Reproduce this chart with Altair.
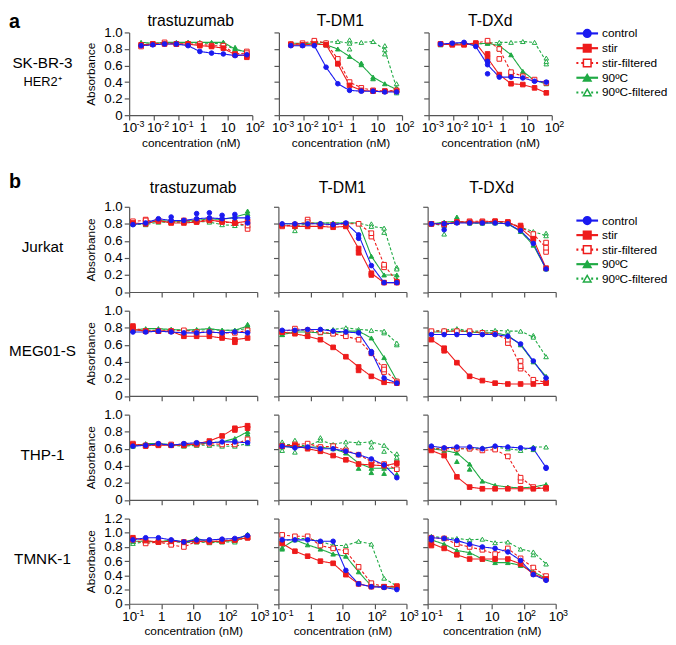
import altair as alt
import pandas as pd

FONT = "Liberation Sans"
BLUE = "#1a1af0"
RED = "#ee1b1b"
GREEN = "#1faa44"
AX = "#555555"

series = ["control", "stir", "stir-filtered", "90ºC", "90ºC-filtered"]
dashed_series = ["stir-filtered", "90ºC-filtered"]
solid_series = ["control", "stir", "90ºC"]

# concentrations (nM)
conc_a = [0.00305, 0.00914, 0.0274, 0.0823, 0.247, 0.741, 2.22, 6.67, 20.0, 60.0]
conc_b = [0.131, 0.328, 0.819, 2.05, 5.12, 12.8, 32.0, 80.0, 200.0, 500.0]

# mean curves; rows: control, stir, stir-filtered, 90ºC, 90ºC-filtered
skbr3_trastuzumab = [
    [0.84, 0.85, 0.86, 0.86, 0.84, 0.77, 0.75, 0.74, 0.72, 0.73],
    [0.85, 0.86, 0.86, 0.86, 0.86, 0.84, 0.83, 0.81, 0.73, 0.72],
    [0.83, 0.86, 0.88, 0.86, 0.86, 0.86, 0.84, 0.84, 0.74, 0.75],
    [0.88, 0.87, 0.88, 0.88, 0.88, 0.88, 0.88, 0.88, 0.80, 0.76],
    [0.86, 0.86, 0.87, 0.87, 0.88, 0.87, 0.87, 0.86, 0.79, 0.77],
]
skbr3_tdm1 = [
    [0.84, 0.84, 0.84, 0.58, 0.38, 0.30, 0.29, 0.29, 0.28, 0.28],
    [0.85, 0.85, 0.86, 0.85, 0.62, 0.36, 0.30, 0.29, 0.29, 0.29],
    [0.86, 0.87, 0.90, 0.87, 0.68, 0.40, 0.33, 0.30, 0.29, 0.30],
    [0.87, 0.87, 0.87, 0.85, 0.80, 0.71, 0.61, 0.46, 0.38, 0.31],
    [0.86, 0.86, 0.88, 0.88, 0.89, 0.87, 0.88, 0.89, 0.79, 0.33],
]
skbr3_tdxd = [
    [0.86, 0.87, 0.88, 0.83, 0.61, 0.46, 0.46, 0.45, 0.41, 0.40],
    [0.86, 0.85, 0.85, 0.87, 0.69, 0.49, 0.38, 0.37, 0.33, 0.27],
    [0.86, 0.86, 0.86, 0.87, 0.90, 0.80, 0.52, 0.47, 0.43, 0.39],
    [0.85, 0.86, 0.86, 0.86, 0.87, 0.84, 0.73, 0.53, 0.42, 0.38],
    [0.86, 0.86, 0.86, 0.86, 0.87, 0.88, 0.88, 0.89, 0.88, 0.65],
]
jurkat_trastuzumab = [
    [0.79, 0.81, 0.86, 0.84, 0.84, 0.86, 0.87, 0.86, 0.87, 0.87],
    [0.81, 0.80, 0.84, 0.81, 0.81, 0.82, 0.84, 0.83, 0.81, 0.83],
    [0.83, 0.84, 0.83, 0.82, 0.84, 0.83, 0.85, 0.82, 0.81, 0.78],
    [0.80, 0.80, 0.84, 0.83, 0.83, 0.84, 0.86, 0.85, 0.88, 0.92],
    [0.80, 0.79, 0.82, 0.82, 0.82, 0.83, 0.82, 0.79, 0.78, 0.79],
]
jurkat_tdm1 = [
    [0.80, 0.80, 0.80, 0.80, 0.79, 0.81, 0.67, 0.31, 0.11, 0.11],
    [0.78, 0.77, 0.77, 0.77, 0.76, 0.77, 0.51, 0.22, 0.11, 0.11],
    [0.77, 0.79, 0.82, 0.79, 0.79, 0.80, 0.80, 0.69, 0.32, 0.12],
    [0.80, 0.80, 0.81, 0.81, 0.81, 0.81, 0.81, 0.42, 0.20, 0.20],
    [0.79, 0.77, 0.80, 0.81, 0.81, 0.81, 0.81, 0.77, 0.75, 0.27],
]
jurkat_tdxd = [
    [0.80, 0.80, 0.81, 0.81, 0.81, 0.81, 0.80, 0.72, 0.57, 0.27],
    [0.80, 0.80, 0.82, 0.82, 0.82, 0.83, 0.82, 0.75, 0.62, 0.28],
    [0.80, 0.79, 0.82, 0.83, 0.83, 0.83, 0.82, 0.76, 0.68, 0.52],
    [0.80, 0.82, 0.83, 0.81, 0.81, 0.81, 0.80, 0.71, 0.55, 0.27],
    [0.80, 0.78, 0.82, 0.81, 0.81, 0.82, 0.81, 0.76, 0.71, 0.66],
]
meg01s_trastuzumab = [
    [0.75, 0.75, 0.76, 0.75, 0.74, 0.74, 0.75, 0.74, 0.75, 0.74],
    [0.78, 0.76, 0.76, 0.76, 0.70, 0.70, 0.70, 0.68, 0.66, 0.68],
    [0.80, 0.76, 0.76, 0.76, 0.77, 0.75, 0.75, 0.74, 0.74, 0.77],
    [0.77, 0.79, 0.79, 0.78, 0.77, 0.78, 0.79, 0.77, 0.77, 0.82],
    [0.77, 0.77, 0.77, 0.78, 0.77, 0.77, 0.78, 0.77, 0.77, 0.79],
]
meg01s_tdm1 = [
    [0.77, 0.77, 0.78, 0.78, 0.76, 0.75, 0.74, 0.52, 0.21, 0.15],
    [0.75, 0.73, 0.70, 0.66, 0.57, 0.46, 0.34, 0.23, 0.16, 0.15],
    [0.75, 0.79, 0.77, 0.75, 0.73, 0.70, 0.66, 0.50, 0.31, 0.17],
    [0.72, 0.75, 0.75, 0.74, 0.73, 0.76, 0.76, 0.68, 0.45, 0.18],
    [0.72, 0.76, 0.78, 0.78, 0.78, 0.80, 0.78, 0.77, 0.76, 0.62],
]
meg01s_tdxd = [
    [0.72, 0.72, 0.72, 0.72, 0.72, 0.72, 0.70, 0.61, 0.41, 0.21],
    [0.66, 0.56, 0.39, 0.23, 0.18, 0.15, 0.14, 0.14, 0.14, 0.15],
    [0.76, 0.76, 0.76, 0.76, 0.74, 0.73, 0.66, 0.35, 0.19, 0.16],
    [0.75, 0.75, 0.77, 0.75, 0.74, 0.74, 0.71, 0.60, 0.40, 0.23],
    [0.76, 0.77, 0.79, 0.76, 0.76, 0.77, 0.76, 0.76, 0.69, 0.46],
]
thp1_trastuzumab = [
    [0.63, 0.64, 0.66, 0.64, 0.66, 0.67, 0.67, 0.68, 0.68, 0.67],
    [0.65, 0.64, 0.64, 0.64, 0.64, 0.66, 0.69, 0.75, 0.84, 0.87],
    [0.66, 0.63, 0.65, 0.65, 0.65, 0.65, 0.66, 0.65, 0.65, 0.71],
    [0.63, 0.66, 0.66, 0.65, 0.64, 0.65, 0.67, 0.68, 0.72, 0.80],
    [0.64, 0.64, 0.65, 0.64, 0.63, 0.64, 0.64, 0.63, 0.63, 0.66],
]
thp1_tdm1 = [
    [0.63, 0.61, 0.62, 0.60, 0.60, 0.57, 0.53, 0.48, 0.41, 0.26],
    [0.63, 0.64, 0.60, 0.57, 0.52, 0.47, 0.42, 0.41, 0.40, 0.43],
    [0.63, 0.65, 0.66, 0.62, 0.63, 0.58, 0.53, 0.45, 0.42, 0.36],
    [0.62, 0.63, 0.62, 0.62, 0.60, 0.55, 0.43, 0.37, 0.37, 0.37],
    [0.65, 0.65, 0.63, 0.70, 0.65, 0.68, 0.67, 0.68, 0.64, 0.50],
]
thp1_tdxd = [
    [0.63, 0.61, 0.62, 0.62, 0.60, 0.63, 0.62, 0.61, 0.60, 0.38],
    [0.58, 0.52, 0.27, 0.15, 0.13, 0.13, 0.13, 0.13, 0.13, 0.14],
    [0.60, 0.60, 0.60, 0.60, 0.58, 0.59, 0.51, 0.26, 0.15, 0.13],
    [0.60, 0.58, 0.55, 0.42, 0.22, 0.17, 0.15, 0.14, 0.15, 0.18],
    [0.60, 0.61, 0.60, 0.60, 0.61, 0.62, 0.60, 0.58, 0.62, 0.62],
]
tmnk1_trastuzumab = [
    [0.90, 0.93, 0.93, 0.90, 0.87, 0.90, 0.90, 0.91, 0.92, 0.96],
    [0.93, 0.89, 0.87, 0.88, 0.87, 0.88, 0.88, 0.88, 0.90, 0.93],
    [0.90, 0.85, 0.87, 0.83, 0.80, 0.88, 0.87, 0.89, 0.90, 0.93],
    [0.88, 0.88, 0.87, 0.90, 0.87, 0.92, 0.87, 0.88, 0.89, 0.98],
    [0.85, 0.87, 0.87, 0.88, 0.86, 0.87, 0.86, 0.87, 0.87, 0.95],
]
tmnk1_tdm1 = [
    [0.90, 0.90, 0.90, 0.88, 0.88, 0.47, 0.28, 0.24, 0.23, 0.20],
    [0.85, 0.74, 0.67, 0.60, 0.57, 0.41, 0.28, 0.24, 0.24, 0.24],
    [0.97, 0.95, 0.95, 0.82, 0.78, 0.74, 0.52, 0.29, 0.24, 0.25],
    [0.79, 0.90, 0.83, 0.77, 0.70, 0.67, 0.45, 0.25, 0.24, 0.23],
    [0.88, 0.92, 0.92, 0.88, 0.82, 0.82, 0.88, 0.84, 0.36, 0.25],
]
tmnk1_tdxd = [
    [0.93, 0.92, 0.89, 0.84, 0.80, 0.78, 0.73, 0.61, 0.41, 0.33],
    [0.85, 0.78, 0.69, 0.63, 0.63, 0.63, 0.63, 0.56, 0.42, 0.35],
    [0.93, 0.92, 0.84, 0.80, 0.76, 0.70, 0.78, 0.64, 0.51, 0.39],
    [0.90, 0.84, 0.75, 0.72, 0.63, 0.58, 0.58, 0.54, 0.45, 0.36],
    [0.95, 0.93, 0.92, 0.90, 0.91, 0.86, 0.87, 0.77, 0.73, 0.56],
]

# visibly separate replicate markers: (series index, concentration index, absorbance)
skbr3_trastuzumab_rep = [(1, 9, 0.70), (2, 9, 0.77), (3, 8, 0.82), (4, 7, 0.88)]
skbr3_tdm1_rep = [(4, 5, 0.80), (4, 5, 0.91), (4, 8, 0.84), (4, 8, 0.74), (4, 9, 0.38),
                  (4, 9, 0.27), (3, 6, 0.63), (3, 7, 0.44)]
skbr3_tdxd_rep = [(0, 4, 0.50), (0, 4, 0.65), (2, 5, 0.68), (2, 6, 0.48), (4, 9, 0.69),
                  (4, 9, 0.62), (1, 4, 0.74), (3, 5, 0.80)]
jurkat_trastuzumab_rep = [(0, 3, 0.88), (0, 5, 0.92), (0, 6, 0.93), (0, 7, 0.90), (0, 8, 0.91),
                          (0, 9, 0.81), (3, 9, 0.95), (2, 9, 0.74), (2, 1, 0.85)]
jurkat_tdm1_rep = [(0, 6, 0.63), (1, 6, 0.46), (1, 7, 0.20), (2, 7, 0.65), (2, 8, 0.29),
                   (4, 7, 0.80), (4, 8, 0.70), (4, 9, 0.29), (4, 1, 0.72), (3, 9, 0.15),
                   (2, 2, 0.85)]
jurkat_tdxd_rep = [(4, 1, 0.68), (2, 9, 0.58), (2, 9, 0.47), (4, 9, 0.69), (2, 8, 0.63),
                   (3, 2, 0.88), (0, 1, 0.73), (1, 7, 0.78)]
meg01s_trastuzumab_rep = [(1, 0, 0.82), (1, 8, 0.63), (3, 9, 0.84)]
meg01s_tdm1_rep = [(2, 8, 0.34), (2, 8, 0.28), (1, 6, 0.30), (4, 9, 0.60), (4, 8, 0.74),
                   (0, 7, 0.50)]
meg01s_tdxd_rep = [(2, 7, 0.41), (2, 7, 0.32), (2, 6, 0.62), (1, 1, 0.53), (4, 8, 0.71)]
thp1_trastuzumab_rep = [(1, 8, 0.82), (1, 9, 0.84), (3, 9, 0.77)]
thp1_tdm1_rep = [(4, 0, 0.58), (4, 0, 0.68), (4, 1, 0.56), (4, 1, 0.70), (4, 3, 0.73),
                 (4, 5, 0.62), (4, 7, 0.62), (4, 8, 0.57), (4, 9, 0.48), (4, 9, 0.54),
                 (3, 6, 0.37), (3, 7, 0.32), (3, 8, 0.31), (3, 9, 0.30)]
thp1_tdxd_rep = [(3, 2, 0.45), (3, 3, 0.36), (2, 7, 0.22), (0, 9, 0.37), (4, 8, 0.59)]
tmnk1_trastuzumab_rep = []
tmnk1_tdm1_rep = [(3, 0, 0.77), (2, 7, 0.25), (4, 0, 0.90)]
tmnk1_tdxd_rep = [(0, 0, 0.90), (4, 8, 0.69), (1, 0, 0.82)]

drugs = ["trastuzumab", "T-DM1", "T-DXd"]
xticks_a = [0.001, 0.01, 0.1, 1, 10, 100]
xticks_b = [0.1, 1, 10, 100, 1000]
# superscript exponents shown next to the "10" tick labels
sup_ticks_a = [0.001, 0.01, 0.1, 100]
sup_text_a = ["-3", "-2", "-1", "2"]
sup_ticks_b = [0.1, 100, 1000]
sup_text_b = ["-1", "2", "3"]
yticks_1 = [0, 0.2, 0.4, 0.6, 0.8, 1.0]
yticks_12 = [0, 0.2, 0.4, 0.6, 0.8, 1.0, 1.2]

color_scale = alt.Scale(domain=series, range=[BLUE, RED, RED, GREEN, GREEN])
fill_scale = alt.Scale(domain=series, range=[BLUE, RED, "white", GREEN, "white"])
shape_scale = alt.Scale(domain=series, range=["circle", "square", "square", "triangle-up", "triangle-up"])
dash_scale = alt.Scale(domain=series, range=[[1, 0], [1, 0], [3, 2], [1, 0], [3, 2]])
draw_order = [4, 3, 2, 1, 0]


def panel_df(vals, conc):
    rows = []
    for si in draw_order:
        for c, v in zip(conc, vals[si]):
            rows.append({"series": series[si], "conc": c, "absorbance": v, "o": 4 - si})
    return pd.DataFrame(rows)


def rep_df(reps, conc):
    rows = [{"series": series[s], "conc": conc[ci], "absorbance": v, "o": 4 - s}
            for s, ci, v in reps]
    return pd.DataFrame(rows)


def text_layer(txt, x, y, size, weight="normal", align="center", baseline="alphabetic"):
    return alt.Chart(pd.DataFrame({"t": [txt]})).mark_text(
        font=FONT, fontSize=size, fontWeight=weight, align=align,
        baseline=baseline, color="black"
    ).encode(text="t:N", x=alt.value(x), y=alt.value(y))


def make_legend(cfg):
    x0 = cfg["leg_x0"]
    ly = alt.Y("series:N", axis=None,
               scale=alt.Scale(type="point", domain=series, range=cfg["leg_range"], padding=0))
    solid = alt.Chart(pd.DataFrame({"series": solid_series})).mark_rule(strokeWidth=2.2).encode(
        x=alt.value(x0), x2=alt.value(x0 + 22), y=ly,
        color=alt.Color("series:N", scale=color_scale, legend=None))
    dashed = alt.Chart(pd.DataFrame({"series": dashed_series})).mark_rule(
        strokeWidth=2.2, strokeDash=[2, 3]).encode(
        x=alt.value(x0), x2=alt.value(x0 + 22), y=ly,
        color=alt.Color("series:N", scale=color_scale, legend=None))
    ldf = pd.DataFrame({"series": series})
    pt = alt.Chart(ldf).mark_point(filled=True, size=60, strokeWidth=1.5, opacity=1).encode(
        x=alt.value(x0 + 11), y=ly,
        shape=alt.Shape("series:N", scale=shape_scale, legend=None),
        fill=alt.Fill("series:N", scale=fill_scale, legend=None),
        stroke=alt.Stroke("series:N", scale=color_scale, legend=None))
    tx = alt.Chart(ldf).mark_text(align="left", baseline="middle", font=FONT, fontSize=12,
                                  color="black").encode(
        x=alt.value(x0 + 26), y=ly, text="series:N")
    return alt.layer(solid, dashed, pt, tx)


def make_panel(vals, reps, cfg, col, ymax, texts, legend=False):
    df = panel_df(vals, cfg["conc"])
    pts_df = pd.concat([rep_df(reps, cfg["conc"]), df], ignore_index=True) if reps else df
    H = cfg["height"]
    common = dict(values=cfg["xticks"], tickSize=5, domainColor=AX, tickColor=AX,
                  domainWidth=1.2, tickWidth=1.2, grid=False, labelFont=FONT,
                  labelFontSize=13.5, labelColor="black", labelPadding=1,
                  labelFlush=False, labelOverlap=False)
    if cfg["xlabels"]:
        x_axis = alt.Axis(labelExpr="datum.value == 1 ? '1' : '10'",
                          title="concentration (nM)", titleFont=FONT, titleFontSize=12,
                          titleFontWeight="normal", titleColor="black", titlePadding=3,
                          **common)
    else:
        x_axis = alt.Axis(labels=False, title="", **common)
    yt = yticks_12 if ymax > 1.05 else yticks_1
    ycommon = dict(values=yt, tickSize=5, domainColor=AX, tickColor=AX, domainWidth=1.2,
                   tickWidth=1.2, grid=False, labelFont=FONT, labelFontSize=13.5,
                   labelColor="black", labelPadding=2, labelFlush=False, labelOverlap=False)
    if col == 0:
        y_axis = alt.Axis(labelExpr="datum.value == 0 ? '0' : format(datum.value, '.1f')",
                          title="Absorbance", titleFont=FONT, titleFontSize=12,
                          titleFontWeight="normal", titleColor="black", titlePadding=6,
                          **ycommon)
    else:
        y_axis = alt.Axis(labels=False, title="", **ycommon)
    xscale = alt.Scale(type="log", domain=cfg["xdomain"], nice=False)
    x = alt.X("conc:Q", scale=xscale, axis=x_axis)
    y = alt.Y("absorbance:Q", scale=alt.Scale(domain=[0, ymax], nice=False), axis=y_axis)
    lines = alt.Chart(df).mark_line(strokeWidth=1.1).encode(
        x=x, y=y,
        color=alt.Color("series:N", scale=color_scale, legend=None),
        strokeDash=alt.StrokeDash("series:N", scale=dash_scale, legend=None),
    )
    pts = alt.Chart(pts_df).mark_point(filled=True, size=22, strokeWidth=1, opacity=1).encode(
        x=x, y=y,
        shape=alt.Shape("series:N", scale=shape_scale, legend=None),
        fill=alt.Fill("series:N", scale=fill_scale, legend=None),
        stroke=alt.Stroke("series:N", scale=color_scale, legend=None),
        order=alt.Order("o:Q"),
    )
    layers = [lines, pts]
    if cfg["xlabels"]:
        sup = alt.Chart(pd.DataFrame({"conc": cfg["sup_ticks"], "s": cfg["sup_text"]})).mark_text(
            font=FONT, fontSize=9, align="left", baseline="alphabetic", dx=7.5, color="black"
        ).encode(x=alt.X("conc:Q", scale=xscale, axis=x_axis), y=alt.value(H + 12.5), text="s:N")
        layers.append(sup)
    core = alt.layer(*layers, *texts)
    if legend:
        core = alt.layer(core, make_legend(cfg)).resolve_scale(y="independent")
    return core.properties(width=cfg["width"], height=H,
                           view=alt.ViewBackground(stroke=None, strokeWidth=0))


cfg_a = dict(conc=conc_a, xdomain=[0.001, 100], xticks=xticks_a, sup_ticks=sup_ticks_a,
             sup_text=sup_text_a, width=125, height=84, leg_range=[1, 61], leg_x0=150,
             title_y=-7)
cfg_b = dict(conc=conc_b, xdomain=[0.1, 1000], xticks=xticks_b, sup_ticks=sup_ticks_b,
             sup_text=sup_text_b, width=130, height=86.5, leg_range=[14, 73], leg_x0=151,
             title_y=-14)

# ---- row a ----
row_a_vals = [(skbr3_trastuzumab, skbr3_trastuzumab_rep), (skbr3_tdm1, skbr3_tdm1_rep),
              (skbr3_tdxd, skbr3_tdxd_rep)]
ca = dict(cfg_a, xlabels=True)
panels_a = []
for j, (vals, reps) in enumerate(row_a_vals):
    texts = [text_layer(drugs[j], ca["width"] / 2, ca["title_y"], 16)]
    if j == 0:
        mid = ca["height"] / 2
        texts += [
            text_layer("a", -122, -4, 20, weight="bold", align="left"),
            text_layer("SK-BR-3", -88, mid - 10.5, 15.5, baseline="middle"),
            text_layer("HER2⁺", -88, mid + 8, 13, baseline="middle"),
        ]
    panels_a.append(make_panel(vals, reps, ca, j, 1.0, texts, legend=(j == 2)))
row_a = alt.hconcat(*panels_a, spacing=27, bounds="flush")

# ---- rows b ----
cells_b = [
    ("Jurkat", [(jurkat_trastuzumab, jurkat_trastuzumab_rep), (jurkat_tdm1, jurkat_tdm1_rep),
                (jurkat_tdxd, jurkat_tdxd_rep)], 1.0),
    ("MEG01-S", [(meg01s_trastuzumab, meg01s_trastuzumab_rep), (meg01s_tdm1, meg01s_tdm1_rep),
                 (meg01s_tdxd, meg01s_tdxd_rep)], 1.0),
    ("THP-1", [(thp1_trastuzumab, thp1_trastuzumab_rep), (thp1_tdm1, thp1_tdm1_rep),
               (thp1_tdxd, thp1_tdxd_rep)], 1.0),
    ("TMNK-1", [(tmnk1_trastuzumab, tmnk1_trastuzumab_rep), (tmnk1_tdm1, tmnk1_tdm1_rep),
                (tmnk1_tdxd, tmnk1_tdxd_rep)], 1.2),
]
panels_b = []
for i, (cell, vals_list, ymax) in enumerate(cells_b):
    cb = dict(cfg_b, xlabels=(i == len(cells_b) - 1))
    for j, (vals, reps) in enumerate(vals_list):
        texts = []
        if i == 0:
            texts.append(text_layer(drugs[j], cb["width"] / 2, cb["title_y"], 16))
        if j == 0:
            texts.append(text_layer(cell, -88, cb["height"] / 2 - 2, 15.5, baseline="middle"))
            if i == 0:
                texts.append(text_layer("b", -122, -19, 20, weight="bold", align="left"))
        panels_b.append(make_panel(vals, reps, cb, j, ymax, texts, legend=(i == 0 and j == 2)))

grid_b = alt.concat(*panels_b, columns=3, spacing={"row": 18.5, "column": 21.5}, bounds="flush")

chart = (
    alt.vconcat(row_a, grid_b, spacing=24)
    .properties(padding=0)
    .configure(font=FONT)
    .configure_axis(grid=False)
    .configure_view(stroke=None, strokeWidth=0)
)

chart.save("out.html", embed_options={"renderer": "svg", "actions": False})
